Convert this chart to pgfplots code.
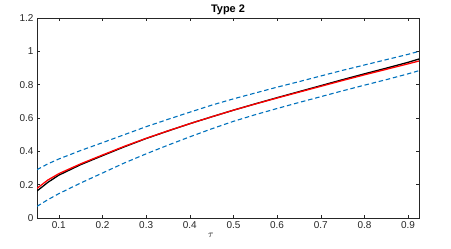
\documentclass[border=0pt]{standalone}
\usepackage{fontspec}
\setmainfont{Liberation Sans}
\usepackage{pgfplots}
\pgfplotsset{compat=1.18}
\definecolor{mblue}{RGB}{0,114,189}
\definecolor{axgray}{RGB}{38,38,38}
\begin{document}
\begin{tikzpicture}[x=1bp,y=1bp]
\begin{axis}[
  at={(37bp,31bp)}, anchor=south west,
  scale only axis, width=382bp, height=200bp,
  xmin=0.05, xmax=0.925, ymin=0, ymax=1.2,
  xtick={0.1,0.2,...,0.9}, ytick={0,0.2,...,1.2},
  tick align=inside, major tick length=3bp,
  axis line style={axgray, line width=0.5bp},
  tick style={axgray, line width=0.5bp},
  tick label style={font=\fontsize{10}{11}\selectfont, text=axgray},
  /pgf/number format/assume math mode=true,
  xlabel={$\tau$},
  xlabel style={at={(rel axis cs:0.455,0)}, anchor=north, yshift=-11.5bp, font=\fontsize{10}{11}\selectfont},
]
\addplot[black, line width=1.3bp] coordinates {
(0.05,0.162) (0.075,0.214) (0.1,0.257) (0.15,0.320) (0.2,0.374) (0.25,0.427)
(0.3,0.477) (0.35,0.522) (0.4,0.566) (0.45,0.607) (0.5,0.647) (0.55,0.685)
(0.6,0.722) (0.65,0.758) (0.7,0.794) (0.75,0.830) (0.8,0.865) (0.85,0.899)
(0.9,0.934) (0.925,0.954)
};
\addplot[red, line width=1.3bp] coordinates {
(0.05,0.178) (0.075,0.228) (0.1,0.266) (0.15,0.325) (0.2,0.378) (0.25,0.430)
(0.3,0.478) (0.35,0.523) (0.4,0.566) (0.45,0.607) (0.5,0.647) (0.55,0.684)
(0.6,0.720) (0.65,0.755) (0.7,0.790) (0.75,0.825) (0.8,0.859) (0.85,0.892)
(0.9,0.925) (0.925,0.942)
};
\addplot[mblue, line width=1.1bp, dash pattern=on 4.5bp off 2.8bp] coordinates {
(0.05,0.290) (0.075,0.325) (0.1,0.354) (0.15,0.405) (0.2,0.452) (0.25,0.500)
(0.3,0.548) (0.35,0.592) (0.4,0.635) (0.45,0.677) (0.5,0.715) (0.55,0.750)
(0.6,0.785) (0.65,0.818) (0.7,0.852) (0.75,0.886) (0.8,0.918) (0.85,0.950)
(0.9,0.982) (0.925,1.000)
};
\addplot[mblue, line width=1.1bp, dash pattern=on 4.5bp off 2.8bp] coordinates {
(0.05,0.070) (0.075,0.110) (0.1,0.146) (0.15,0.210) (0.2,0.270) (0.25,0.330)
(0.3,0.385) (0.35,0.437) (0.4,0.487) (0.45,0.535) (0.5,0.580) (0.55,0.620)
(0.6,0.657) (0.65,0.693) (0.7,0.728) (0.75,0.763) (0.8,0.797) (0.85,0.830)
(0.9,0.865) (0.925,0.884)
};
\end{axis}
\node[anchor=base, font=\fontsize{11}{12}\selectfont\bfseries, inner sep=0pt] at (228bp,236bp) {Type 2};
\pgfresetboundingbox
\path[use as bounding box] (0,0) rectangle (451bp,249bp);
\end{tikzpicture}
\end{document}
